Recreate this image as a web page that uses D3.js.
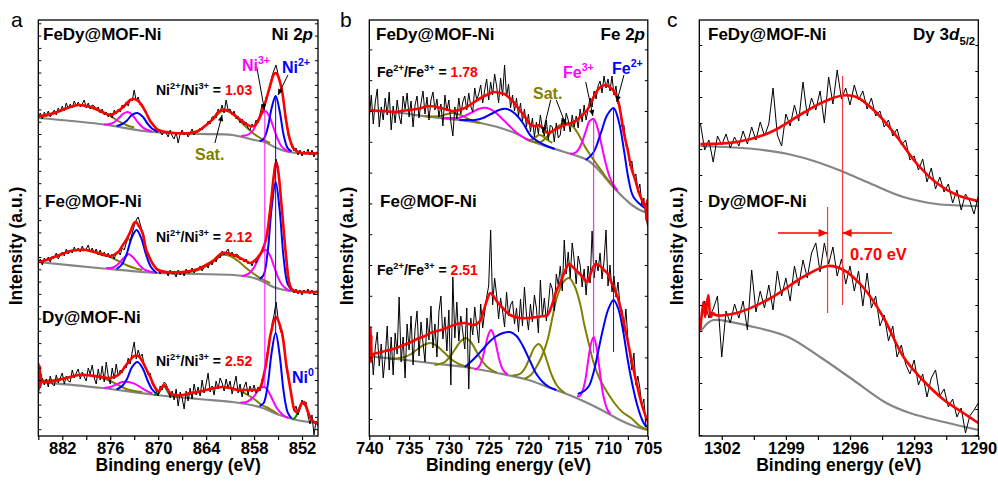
<!DOCTYPE html>
<html><head><meta charset="utf-8">
<script src="https://cdn.jsdelivr.net/npm/d3@7"></script>
<style>
body{margin:0;background:#fff;}
svg text{font-family:"Liberation Sans",Arial,Helvetica,sans-serif;}
</style></head><body>
<svg id="fig" width="998" height="484"></svg>
<script>
// ---------- energy grids (eV) ----------
const niEnergy = d3.range(141).map(i => 885 - 0.25 * i);
const feEnergy = d3.range(141).map(i => 740 - 0.25 * i);
const dyEnergy = d3.range(66).map(i => +(1303 - 0.2 * i).toFixed(1));

// ---------- Ni 2p : FeDy@MOF-Ni ----------
const niFeDyRaw = [318,323,317,324,320,325,319,323,326,321,328,324,330,325,333,327,332,328,335,330,334,329,332,336,328,333,327,331,330,326,329,323,327,321,324,319,323,318,326,322,327,324,331,328,334,330,337,335,346,335,339,331,332,326,324,318,315,312,309,306,307,304,301,305,303,299,306,300,297,304,293,302,306,301,304,299,303,307,301,305,304,308,306,310,310,315,312,319,320,318,327,324,331,323,336,326,327,321,325,317,320,313,317,311,314,308,306,312,309,316,313,322,331,328,339,341,352,360,366,371,362,355,347,329,318,301,297,289,285,288,281,286,280,285,282,287,281,286,279,284,282];
const niFeDyFit = [[885,320],[884,321],[883,323],[882,326],[881,329],[880,331],[879,330],[878,328],[877,324],[876,321],[875,325],[874,332],[873.5,336],[873,337],[872.5,335],[872,330],[871.5,323],[871,315],[870.5,310],[870,306],[869,304],[868,303],[866,303],[865,305],[864,311],[863,318],[862.5,324],[862,326],[861.5,326],[861,324],[860,318],[859,312],[858.5,310],[858,310],[857.5,315],[857,324],[856.5,336],[856,350],[855.5,362],[855.25,363],[855,360],[854.5,345],[854,316],[853.5,296],[853,287],[852.5,284],[852,283],[850,283]];
const niFeDyBg = [[885,318],[877.3,312],[870.7,304],[864.8,302],[860.7,301],[858,296],[856.7,294],[855.2,288],[853.6,284],[850,282]];
const niFeDyNi2 = [
  [[857.3,295],[856.8,297],[856.3,308],[855.8,328],[855.3,340],[854.8,325],[854.3,301],[853.8,288],[853.3,284.5]],
  [[875.2,310],[874.5,312],[873.9,315.5],[873.3,321],[872.6,323],[871.9,319],[871.3,312],[870.7,307],[870,304]]
];
const niFeDyNi3 = [
  [[859.6,300],[859.1,300.5],[858.6,302],[858.1,306],[857.6,314],[857.1,322],[856.6,325],[856.1,320],[855.6,309],[855.1,298],[854.6,290],[854.1,286.4],[853.6,284]],
  [[876.8,311.5],[876.3,311.7],[875.8,312.5],[875.3,315],[874.8,319],[874.3,322.6],[873.8,324],[873.3,321.6],[872.8,316.5],[872.3,311.5],[871.8,307.8],[871.3,306],[870.8,304.5]]
];
const niFeDySat = [
  [[885,319],[884,320],[883,323],[882,326],[881,329],[880,331],[879,330],[878,327],[877,324],[876,320],[875,315],[874,311],[873,308.5]],
  [[867,303],[866,303],[865,305],[864,311],[863,318],[862,325],[861,324],[860,317],[859,309],[858,302],[857,297],[856,293]]
];

// ---------- Ni 2p : Fe@MOF-Ni ----------
const niFeRaw = [172,177,171,178,175,179,174,180,178,183,177,181,184,180,187,182,186,183,189,185,188,184,190,185,187,191,184,188,183,187,181,186,180,184,179,183,178,182,177,183,185,181,188,186,193,198,195,203,210,216,219,212,205,199,187,183,178,173,171,168,167,162,166,163,165,160,166,162,163,159,166,161,165,160,167,163,164,168,163,167,166,170,165,169,172,168,174,171,177,174,180,178,185,181,184,187,180,184,179,182,181,176,178,174,177,172,174,170,176,173,178,181,186,190,199,209,227,246,265,277,270,244,228,200,182,163,152,146,143,147,142,146,141,146,143,147,142,146,141,145,144];
const niFeFit = [[885,174],[884,176],[883,179],[882,182],[881,185],[880,186],[879,186],[878,184],[877,182],[876,180],[875,184],[874.5,190],[874,196],[873.5,204],[873,213],[872.75,214],[872.5,211],[872,204],[871.5,186],[871,177],[870.5,170],[870,166],[869,164],[867,164],[866,165],[865,167],[864,171],[863,176],[862,183],[861,182],[860,179],[859,175],[858.5,173],[858,175],[857.5,179],[857,185],[856.5,197],[856,225],[855.5,262],[855.25,274],[855,266],[854.5,225],[854,180],[853.5,150],[853,145],[852,144],[850,144]];
const niFeBg = [[885,174],[877.5,168],[870.2,163],[865,162],[860.6,161],[858.5,159],[857.3,156],[856.3,152],[855.6,149],[854.5,146.5],[853.5,145],[850,144]];
const niFeNi2 = [
  [[857.3,157],[856.8,161],[856.3,184],[855.8,228],[855.3,254],[854.8,226],[854.3,178],[853.8,152],[853.3,146]],
  [[875.2,167],[874.5,172],[873.9,183],[873.3,198.5],[872.7,206],[872.1,197.5],[871.5,181],[870.9,169],[870.2,163]]
];
const niFeNi3 = [
  [[859.5,160],[859,161],[858.5,163.5],[858,168.6],[857.5,176.5],[857,184],[856.5,186],[856,180.5],[855.5,169.5],[855,158.6],[854.5,151],[854,147.5],[853.5,145]],
  [[876.5,168],[876,168],[875.5,169],[875,172],[874.5,176.5],[874,180],[873.75,182],[873.25,179.5],[872.75,175],[872.25,170],[871.75,166.5],[871.25,165],[870.5,163.5]]
];
const niFeSat = [
  [[885,174],[884,176],[883,179],[882,182],[881,185],[880,186],[879,186],[878,184],[877,181],[876,179],[875,175],[874,171],[873,168],[872,166]],
  [[867,163],[866,164],[865,166],[864,170],[863,175],[862,181],[861,180],[860,175],[859,168],[858,162],[857,157],[856,153]]
];

// ---------- Ni 2p : Dy@MOF-Ni ----------
const niDyRaw = [62,48,58,51,57,49,60,52,50,61,53,58,63,52,60,55,54,66,58,63,67,57,64,59,55,68,62,71,58,52,67,56,70,54,74,60,52,68,57,72,60,66,63,70,68,78,72,84,94,77,86,79,82,70,68,61,63,52,49,45,40,50,46,54,52,46,38,45,36,47,30,44,38,27,45,35,48,37,52,41,49,40,56,43,52,63,44,50,41,55,47,58,53,45,57,48,55,42,51,60,43,52,39,49,54,41,50,44,51,43,49,45,57,60,76,88,97,112,121,134,118,107,101,93,70,58,52,35,25,30,21,27,36,31,34,20,12,21,1,15,10];
const niDyFit = [[885,73],[884.95,45],[884.9,66],[884.85,48],[884.8,70],[884.75,50],[884.7,62],[884.6,55],[884.4,54],[884,54],[883,55],[882,57],[881,59],[880,61],[879,61],[878,60],[877,59],[876,58],[875,61],[874,71],[873.5,76],[873,80],[872.5,80],[872,75],[871.5,67],[871,59],[870.5,50],[870,45],[869.6,48],[869.3,51],[869,49],[868.5,43],[868,41],[867,41],[866,43],[865,44],[864,46],[863,48],[862,49],[861,48],[860,46],[859,46],[858.5,46],[858,46],[857.5,46],[857.25,48],[857,53],[856.75,62],[856.5,72],[856.25,85],[856,99],[855.75,108],[855.5,116],[855.25,119],[855,116],[854.75,110],[854.5,103],[854.25,90],[854,73],[853.75,61],[853.5,49],[853.25,37],[853,27],[852.75,24],[852.5,25],[852.25,29],[852,33],[851.75,34],[851.5,30],[851.25,24],[851,19],[850.75,16],[850.5,14],[850.25,13],[850,12]];
const niDyBg = [[885,54],[883.5,53],[877,48],[870.2,41],[865,37],[860.7,34],[857.3,29],[855,21.5],[852.7,16],[850,13]];
const niDyNi2 = [
  [[857.3,30],[856.8,33],[856.3,50.5],[855.8,83.5],[855.3,103],[854.8,81],[854.3,44.5],[853.8,23.7],[853.3,17.7]],
  [[875.2,46.5],[874.5,50],[873.9,57],[873.3,68.5],[872.6,74],[871.9,67],[871.3,55],[870.7,46],[870,41]]
];
const niDyNi3 = [
  [[859.7,33.5],[859.2,33.5],[858.7,35],[858.2,38],[857.7,43],[857.2,48],[856.7,49],[856.2,44.5],[855.7,36.5],[855.2,28.5],[854.7,23.5],[854.2,20],[853.7,18]],
  [[876.75,48],[876,49],[875.25,51.5],[874.5,54],[873.75,54],[873,52.4],[872.25,49],[871.5,45.3],[870.75,42.5]]
];
const niDyNi0 = [
  [[870.5,41],[870,42.5],[869.7,46],[869.3,50],[868.9,46],[868.6,42],[868.1,40]],
  [[853.2,16.5],[852.8,19],[852.4,27],[851.9,34],[851.4,27],[851,19],[850.6,14.5]]
];
const niDySat = [
  [[885,55],[883,56],[881,59],[880,61],[879,61],[878,60],[877,58],[876,55],[875,51],[874,47],[873,45],[872,44]],
  [[868,40],[866,42],[864,46],[863,48],[862,49],[861,48],[860,46],[859,42],[858,37],[857,31],[856,27],[855,22]]
];

// ---------- Fe 2p : FeDy@MOF-Ni ----------
const feFeDyRaw = [318,341,312,334,347,309,329,316,338,321,344,306,330,313,336,320,312,340,327,343,319,335,309,331,340,318,333,345,322,339,316,336,344,326,337,319,332,310,341,325,336,314,300,329,317,338,322,334,340,326,343,330,324,348,336,342,351,333,346,357,336,354,341,362,350,333,358,340,371,339,352,328,341,325,338,320,333,315,327,309,322,304,318,299,314,302,321,307,300,316,296,311,309,294,313,298,301,318,305,323,316,304,321,309,320,308,327,314,331,316,327,338,329,345,337,350,355,343,360,348,357,345,360,341,350,332,330,309,311,290,288,270,275,258,262,244,252,231,238,219,209];
const feFeDyFit = [[740,326],[739,325],[738,325],[737,324],[736,325],[735,326],[734,327],[733,329],[732.4,330],[731,328],[730,326],[729.4,325],[728,328],[727,333],[726,338],[725,342],[724.4,344],[723.5,343],[723,342],[722,335],[721.4,329],[720.5,320],[719.7,311],[719,310],[718.7,311],[718,306],[717.6,303],[717,305],[716,309],[715.5,311],[715,312],[714.3,314],[713.5,319],[712.6,326],[712,336],[711.1,348],[710.3,351],[709.8,349],[709.2,344],[708.7,334],[708,303],[707.5,285],[707.1,269],[706.5,254],[706.1,243],[705.5,232],[705.2,226],[705.15,216],[705.1,236],[705.05,218],[705,230]];
const feFeDyBg = [[740,326],[736,323],[732.4,319],[726,313],[722,304],[719.7,295],[715.5,284],[712.6,276],[711.3,267],[710.1,256],[709,246],[708,238],[707,231],[706,226],[705,223]];
const feFeDyFe2 = [
  [[712.8,276],[711.8,284],[710.9,303],[710.1,321],[709.3,328],[708.6,313],[708,286],[707.4,256],[706.8,239],[705.4,228]],
  [[728.7,316],[727.7,316],[726.7,316],[725.7,318],[724.7,322],[723.7,326],[722.7,327],[721.7,322.5],[720.7,313],[719.7,300],[718.7,294],[717.7,290],[716.7,287]]
];
const feFeDyFe3 = [
  [[714.8,282.5],[714.3,282.6],[713.8,285.5],[713.3,293],[712.8,304.6],[712.3,315],[711.8,317],[711.3,307.6],[710.8,290.5],[710.3,273],[709.8,259],[709.3,251],[708.8,245.5]],
  [[730.6,318],[729.7,318],[728.8,318],[727.9,320.5],[727,324],[726.1,327.5],[725.2,328],[724.3,324.5],[723.4,318],[722.5,311],[721.6,304],[720.7,299],[719.8,295]]
];
const feFeDySat = [
  [[720.5,298],[719.7,295],[718.5,294],[717.2,303],[716,311],[714.9,313],[713.9,304],[712.8,288],[711.8,276],[710.8,265],[709.8,254],[708.8,245.5]],
  [[720.3,297],[719.8,296],[719.2,298],[718.7,301],[718.2,300],[717.6,296],[717,293]],
  [[733,320],[732,319.5],[731,320],[730.2,322],[729.5,323],[728.7,321.5],[727.8,318],[727,315],[726,313]]
];

// ---------- Fe 2p : Fe@MOF-Ni ----------
const feFeRaw = [72,95,61,88,104,70,92,58,79,110,66,99,61,103,82,139,74,99,58,112,86,120,71,107,125,80,114,93,74,118,96,130,88,112,79,124,140,97,119,85,126,51,159,98,134,95,120,104,87,128,47,118,101,129,110,93,132,108,124,139,150,206,131,158,141,117,138,125,109,144,120,131,135,112,128,104,137,110,149,121,106,132,114,141,128,103,156,119,138,115,131,153,147,125,162,151,170,145,196,162,184,158,193,176,152,180,171,149,167,141,170,153,205,158,176,165,183,157,175,206,150,171,144,160,139,154,131,126,104,127,96,81,66,83,51,60,48,29,37,12,6];
const feFeFit = [[740,80],[739.95,105],[739.9,76],[739.85,108],[739.8,74],[739.75,100],[739.7,78],[739.5,82],[739,83],[738,85],[737,87],[736,90],[735,93],[734,97],[733,100],[732.35,103],[731,106],[730,109],[729,112],[728,113],[727,111],[726.5,112],[726,116],[725.6,126],[725.2,136],[724.8,143],[724.4,140],[723.9,134],[723,126],[722.3,121],[721,118],[720,118],[719,119],[718,120],[717.6,121],[717,132],[716.5,145],[716,153],[715.5,163],[714.9,172],[714.3,168],[713.8,164],[713.4,161],[712.9,156],[712.6,154],[712.2,162],[711.8,170],[711.55,172],[711,170],[710.5,166],[710.1,163],[709.5,152],[708.8,139],[708.2,120],[707.55,96],[707,74],[706.3,49],[705.7,30],[705,14]];
const feFeBg = [[740,80],[739.1,79],[736,76.5],[732.35,73],[728,69],[723.9,63],[720,56],[717.6,49],[715.5,43],[713.4,36],[711.8,30],[710.1,23],[708.5,16],[707.1,11],[706,8],[705,6]];
const feFeFe2 = [
  [[713.8,42],[713,45],[712.4,50],[711.8,64],[711.2,86],[710.6,108],[710,126],[709.3,136],[708.7,127],[708.1,105],[707.5,75],[706.9,50],[706.3,30],[705.7,16],[705.2,9]],
  [[728,69],[727.4,73],[726.5,80],[725.6,88],[724.8,95],[724,100],[723.2,103],[722.3,104],[721.5,100],[720.7,90],[719.8,75],[719,62],[718.2,54],[717.4,49],[716.5,46]]
];
const feFeFe3 = [
  [[713.9,40],[713.55,40],[713.2,45],[712.85,56],[712.5,75],[712.15,92],[711.8,99],[711.45,89],[711.1,69],[710.75,47.5],[710.4,34],[710.05,26],[709.7,22]],
  [[726.8,66.5],[726.45,67.5],[726.1,70.7],[725.75,78.5],[725.4,90],[725.05,101],[724.7,106],[724.35,100.5],[724,88.5],[723.65,76],[723.3,67.7],[722.95,63.5],[722.6,61.5]]
];
const feFeSat = [
  [[720.5,57],[719.7,61],[719,69],[718.3,80],[717.6,96],[717,118],[716.4,139],[715.6,154],[714.9,158],[714.2,150],[713.5,132],[713,112],[712.4,92],[711.8,73],[711.1,58],[710.5,49],[709.8,40],[709.2,33],[708.2,24],[707.1,18],[706,10],[705,6]],
  [[722,60.5],[721.45,61],[720.9,63],[720.35,69],[719.8,79],[719.25,88.5],[718.7,92],[718.15,86],[717.6,73],[717.05,60.5],[716.5,51.5],[715.95,46.3],[715.4,43]],
  [[731.8,71],[731.15,72],[730.5,74],[729.85,79.5],[729.2,87],[728.55,94.5],[727.9,98],[727.25,94],[726.6,85.5],[725.95,76.5],[725.3,70],[724.65,66],[724,63.5]],
  [[737.4,77],[736.55,77.5],[735.7,78.7],[734.85,81.5],[734,86.5],[733.15,91],[732.3,93],[731.45,89.6],[730.6,83.5],[729.75,77],[728.9,72.7],[728.05,70],[727.2,68]]
];

// ---------- Dy 3d5/2 ----------
const dyFeDyRaw = [313,286,296,274,300,291,302,288,299,290,305,292,309,296,314,300,312,348,301,290,322,310,331,315,354,320,338,326,345,313,359,332,366,337,348,331,351,336,345,327,338,320,325,309,316,300,307,291,296,276,280,266,277,254,268,247,259,244,252,233,246,226,242,235,222,240];
const dyFeDyFit = [[1303,292],[1301.3,294],[1299.7,304],[1298.2,323],[1297.25,334],[1296.35,340.5],[1295.7,339],[1294.75,323],[1293.8,299],[1292.9,273],[1291.95,253],[1291,241],[1290,235]];
const dyFeDyBg = [[1303,290],[1300.5,287],[1298.9,282],[1297.4,273],[1296.3,264],[1295.1,253],[1293.5,239],[1291.95,232],[1290,230]];
const dyDyRaw = [112,135,118,127,140,79,125,113,132,118,135,106,166,124,145,128,151,126,165,140,158,135,170,150,176,158,183,193,164,193,172,189,160,177,152,170,145,165,130,163,128,140,110,121,95,110,79,91,72,62,76,51,62,39,58,66,40,47,29,37,19,28,3,20,26,33];
const dyDyFit = [[1303,106],[1302.86,134],[1302.78,119],[1302.63,141],[1302.52,119],[1302.4,123],[1302.3,121],[1301.3,123],[1299.7,138],[1298.2,159],[1297.05,170],[1296.3,166],[1295.4,149],[1294.45,119],[1293.5,79],[1292.6,56],[1291.6,36],[1290.7,23],[1290,13]];
const dyDyBg = [[1303,104],[1302.7,112],[1302.4,116],[1300.5,109],[1298.9,99],[1297.4,79],[1295.85,56],[1294.3,33],[1293.2,23],[1291.6,14],[1290,6]];
const dyPeakFeDy = 1296.35;   // Dy 3d5/2 maximum, FeDy@MOF-Ni
const dyShift = 0.70;         // shift of the Dy@MOF-Ni maximum

// ---------- tick labels ----------
const niTickLabels = [882, 876, 870, 864, 858, 852];
const feTickLabels = [740, 735, 730, 725, 720, 715, 710, 705];
const dyTickLabels = [1302, 1299, 1296, 1293, 1290];

// ---------- styles ----------
const RED = "#ff0000", BLUE = "#0000ff", MAGENTA = "#ff00ff", OLIVE = "#808000",
      GREEN = "#008000", GRAY = "#858585";
const plotTop = 20, plotBottom = 436;
const svg = d3.select("#fig");

const defs = svg.append("defs");
function marker(id, color, w, h) {
  defs.append("marker").attr("id", id).attr("viewBox", "0 0 10 10")
    .attr("refX", 10).attr("refY", 5).attr("markerWidth", w).attr("markerHeight", h)
    .attr("markerUnits", "userSpaceOnUse").attr("orient", "auto")
    .append("path").attr("d", "M0,0.5 L10,5 L0,9.5 Z").attr("fill", color);
}
marker("headBlack", "#000", 7, 6);
marker("headRed", RED, 11, 9);

// text with optional superscript / subscript / italic / coloured runs
function rich(g, x, y, size, anchor, parts, color, weight) {
  const t = g.append("text").attr("x", x).attr("y", y).attr("text-anchor", anchor)
    .attr("font-size", size).attr("font-weight", weight || "bold").attr("fill", color || "#000");
  let shift = 0;
  parts.forEach(p => {
    const s = t.append("tspan").text(p.t);
    let target = 0;
    if (p.sup) { target = -size * 0.42; s.attr("font-size", size * 0.66); }
    if (p.sub) { target = size * 0.28; s.attr("font-size", size * 0.66); }
    s.attr("dy", target - shift); shift = target;
    if (p.color) s.attr("fill", p.color);
    if (p.italic) s.attr("font-style", "italic");
  });
  return t;
}

function drawPanel(P) {
  const x = d3.scaleLinear().domain(P.xDomain).range([P.left, P.right]);
  const y = d3.scaleLinear().domain([0, 416]).range([plotBottom, plotTop]);
  const g = svg.append("g");
  const clipId = "clip-" + P.id;
  defs.append("clipPath").attr("id", clipId).append("rect")
    .attr("x", P.left).attr("y", plotTop).attr("width", P.right - P.left).attr("height", plotBottom - plotTop);
  const plot = g.append("g").attr("clip-path", `url(#${clipId})`);
  const smooth = d3.line().x(d => x(d[0])).y(d => y(d[1])).curve(d3.curveCatmullRom.alpha(0.5));
  const straight = d3.line().x(d => x(d[0])).y(d => y(d[1]));

  P.spectra.forEach(s => {
    plot.append("path").attr("d", smooth(s.bg)).attr("fill", "none")
      .attr("stroke", GRAY).attr("stroke-width", 2.2);
    (s.comps || []).forEach(c => c.peaks.forEach(pk =>
      plot.append("path").attr("d", smooth(pk)).attr("fill", "none")
        .attr("stroke", c.color).attr("stroke-width", 2)));
    const rawPts = s.energy.map((e, i) => [e, s.raw[i]]);
    plot.append("path").attr("d", straight(rawPts)).attr("fill", "none")
      .attr("stroke", "#000").attr("stroke-width", 1);
    plot.append("path").attr("d", smooth(s.fit)).attr("fill", "none")
      .attr("stroke", RED).attr("stroke-width", 2.6);
  });

  // vertical guides linking peak positions
  (P.guides || []).forEach(gd => {
    plot.append("line").attr("x1", x(gd.e)).attr("x2", x(gd.e))
      .attr("y1", y(gd.from)).attr("y2", y(gd.to))
      .attr("stroke", gd.color).attr("stroke-width", gd.width || 1).attr("opacity", gd.opacity || 1);
  });
  // arrows
  (P.arrows || []).forEach(a => {
    g.append("line").attr("x1", x(a.from[0])).attr("y1", y(a.from[1]))
      .attr("x2", x(a.to[0])).attr("y2", y(a.to[1]))
      .attr("stroke", a.color || "#000").attr("stroke-width", a.width || 1)
      .attr("marker-end", `url(#${a.head || "headBlack"})`);
  });

  // axes: outward minor/major ticks, labels only on the major ones
  const xAxis = d3.axisBottom(x).tickValues(P.xTicks).tickSizeInner(4).tickSizeOuter(0)
    .tickPadding(2).tickFormat(d => String(d));
  const ax = g.append("g").attr("transform", `translate(0,${plotBottom})`).call(xAxis);
  ax.select(".domain").remove();
  ax.selectAll("line").attr("stroke-width", 1.2);
  ax.selectAll(".tick").filter(d => !P.xLabels.includes(d)).select("text").remove();
  ax.selectAll("text").attr("font-size", 16.5).attr("font-weight", "bold")
    .attr("font-family", '"Liberation Sans",Arial,sans-serif').attr("fill", "#000");

  const yTicks = d3.range(P.yTickStart, 416, P.yTickStep);
  const ayl = g.append("g").attr("transform", `translate(${P.left},0)`)
    .call(d3.axisLeft(y).tickValues(yTicks).tickSizeInner(-3).tickSizeOuter(0).tickFormat(""));
  ayl.select(".domain").remove();
  ayl.selectAll("text").remove();
  const ayr = g.append("g").attr("transform", `translate(${P.right},0)`)
    .call(d3.axisRight(y).tickValues(yTicks).tickSizeInner(-3).tickSizeOuter(0).tickFormat(""));
  ayr.select(".domain").remove();
  ayr.selectAll("text").remove();

  g.append("rect").attr("x", P.left).attr("y", plotTop).attr("width", P.right - P.left)
    .attr("height", plotBottom - plotTop).attr("fill", "none").attr("stroke", "#000").attr("stroke-width", 1.3);

  // axis titles
  g.append("text").attr("x", (P.left + P.right) / 2).attr("y", 471).attr("text-anchor", "middle")
    .attr("font-size", 17.5).attr("font-weight", "bold").text("Binding energy (eV)");
  g.append("text").attr("transform", `translate(${P.left - 16.5},246) rotate(-90)`)
    .attr("text-anchor", "middle").attr("font-size", 17.5).attr("font-weight", "bold").text("Intensity (a.u.)");
  // panel letter
  g.append("text").attr("x", P.letterX).attr("y", 27).attr("font-size", 21).text(P.letter);

  P.labels.forEach(l => rich(g, l.x, l.y, l.size, l.anchor || "start", l.parts, l.color));
}

const ratio = (a, b, v) => [{t: a}, {t: "2+", sup: true}, {t: "/" + b}, {t: "3+", sup: true}, {t: " = "}, {t: v, color: RED}];

drawPanel({
  id: "a", left: 38.3, right: 318, xDomain: [885, 850],
  xTicks: d3.range(852, 886, 3), xLabels: niTickLabels,
  yTickStart: 6.8, yTickStep: 12.3, letter: "a", letterX: 11,
  spectra: [
    {energy: niEnergy, raw: niFeDyRaw, fit: niFeDyFit, bg: niFeDyBg,
     comps: [{color: OLIVE, peaks: niFeDySat}, {color: MAGENTA, peaks: niFeDyNi3}, {color: BLUE, peaks: niFeDyNi2}]},
    {energy: niEnergy, raw: niFeRaw, fit: niFeFit, bg: niFeBg,
     comps: [{color: OLIVE, peaks: niFeSat}, {color: MAGENTA, peaks: niFeNi3}, {color: BLUE, peaks: niFeNi2}]},
    {energy: niEnergy, raw: niDyRaw, fit: niDyFit, bg: niDyBg,
     comps: [{color: OLIVE, peaks: niDySat}, {color: MAGENTA, peaks: niDyNi3}, {color: BLUE, peaks: niDyNi2}, {color: GREEN, peaks: niDyNi0}]}
  ],
  guides: [
    {e: 856.65, from: d3.max(niFeDyNi3[0], d => d[1]), to: d3.max(niDyNi3[0], d => d[1]), color: MAGENTA},
    {e: 855.3, from: d3.max(niFeDyNi2[0], d => d[1]), to: d3.max(niDyNi2[0], d => d[1]), color: BLUE}
  ],
  arrows: [
    {from: [857.66, 369], to: [856.7, 326]},
    {from: [853.76, 361], to: [855.0, 341]},
    {from: [862.9, 293], to: [862.0, 321]}
  ],
  labels: [
    {x: 43, y: 40, size: 17, parts: [{t: "FeDy@MOF-Ni"}]},
    {x: 313, y: 40, size: 17, anchor: "end", parts: [{t: "Ni 2"}, {t: "p", italic: true}]},
    {x: 156, y: 95, size: 14, parts: ratio("Ni", "Ni", "1.03")},
    {x: 45, y: 207, size: 17, parts: [{t: "Fe@MOF-Ni"}]},
    {x: 156, y: 242, size: 14, parts: ratio("Ni", "Ni", "2.12")},
    {x: 42, y: 323, size: 17, parts: [{t: "Dy@MOF-Ni"}]},
    {x: 156, y: 366, size: 14, parts: ratio("Ni", "Ni", "2.52")},
    {x: 242, y: 71, size: 16, color: MAGENTA, parts: [{t: "Ni"}, {t: "3+", sup: true}]},
    {x: 282, y: 73, size: 16, color: BLUE, parts: [{t: "Ni"}, {t: "2+", sup: true}]},
    {x: 292, y: 383, size: 16, color: BLUE, parts: [{t: "Ni"}, {t: "0", sup: true}]},
    {x: 195, y: 160, size: 16, color: OLIVE, parts: [{t: "Sat."}]}
  ]
});

drawPanel({
  id: "b", left: 369.3, right: 647.8, xDomain: [740, 705],
  xTicks: d3.range(705, 741, 2.5), xLabels: feTickLabels,
  yTickStart: 17, yTickStep: 30.8, letter: "b", letterX: 340,
  spectra: [
    {energy: feEnergy, raw: feFeDyRaw, fit: feFeDyFit, bg: feFeDyBg,
     comps: [{color: OLIVE, peaks: feFeDySat}, {color: MAGENTA, peaks: feFeDyFe3}, {color: BLUE, peaks: feFeDyFe2}]},
    {energy: feEnergy, raw: feFeRaw, fit: feFeFit, bg: feFeBg,
     comps: [{color: OLIVE, peaks: feFeSat}, {color: MAGENTA, peaks: feFeFe3}, {color: BLUE, peaks: feFeFe2}]}
  ],
  guides: [
    {e: 711.8, from: d3.max(feFeDyFe3[0], d => d[1]), to: 83, color: MAGENTA},
    {e: 709.3, from: d3.max(feFeDyFe2[0], d => d[1]), to: 84, color: BLUE}
  ],
  arrows: [
    {from: [712.8, 354], to: [711.9, 320]},
    {from: [708.0, 361], to: [708.9, 334]},
    {from: [717.2, 336], to: [718.2, 303]},
    {from: [716.5, 336], to: [715.3, 311]}
  ],
  labels: [
    {x: 376, y: 40, size: 17, parts: [{t: "FeDy@MOF-Ni"}]},
    {x: 645, y: 40, size: 17, anchor: "end", parts: [{t: "Fe 2"}, {t: "p", italic: true}]},
    {x: 377, y: 77, size: 14, parts: ratio("Fe", "Fe", "1.78")},
    {x: 380, y: 207, size: 17, parts: [{t: "Fe@MOF-Ni"}]},
    {x: 377, y: 275, size: 14, parts: ratio("Fe", "Fe", "2.51")},
    {x: 563, y: 78, size: 16, color: MAGENTA, parts: [{t: "Fe"}, {t: "3+", sup: true}]},
    {x: 612, y: 74, size: 16, color: BLUE, parts: [{t: "Fe"}, {t: "2+", sup: true}]},
    {x: 533, y: 99, size: 16, color: OLIVE, parts: [{t: "Sat."}]}
  ]
});

drawPanel({
  id: "c", left: 699.3, right: 978.3, xDomain: [1303.05, 1290],
  xTicks: d3.range(1290, 1303, 1.5), xLabels: dyTickLabels,
  yTickStart: 1, yTickStep: 26, letter: "c", letterX: 667,
  spectra: [
    {energy: dyEnergy, raw: dyFeDyRaw, fit: dyFeDyFit, bg: dyFeDyBg},
    {energy: dyEnergy, raw: dyDyRaw, fit: dyDyFit, bg: dyDyBg}
  ],
  guides: [
    {e: dyPeakFeDy, from: 360, to: 131, color: "#ff3a3a", width: 1.2},
    {e: dyPeakFeDy + dyShift, from: 229, to: 123, color: "#ff3a3a", width: 1.2}
  ],
  arrows: [
    {from: [1299.37, 203], to: [dyPeakFeDy + dyShift, 203], color: RED, head: "headRed", width: 1.4},
    {from: [1294.04, 203], to: [dyPeakFeDy, 203], color: RED, head: "headRed", width: 1.4}
  ],
  labels: [
    {x: 708, y: 40, size: 17, parts: [{t: "FeDy@MOF-Ni"}]},
    {x: 975, y: 40, size: 17, anchor: "end", parts: [{t: "Dy 3"}, {t: "d", italic: true}, {t: "5/2", sub: true}]},
    {x: 708, y: 207, size: 17, parts: [{t: "Dy@MOF-Ni"}]},
    {x: 850, y: 260, size: 16.5, color: RED, parts: [{t: dyShift.toFixed(2) + " eV"}]}
  ]
});
</script>
</body></html>
